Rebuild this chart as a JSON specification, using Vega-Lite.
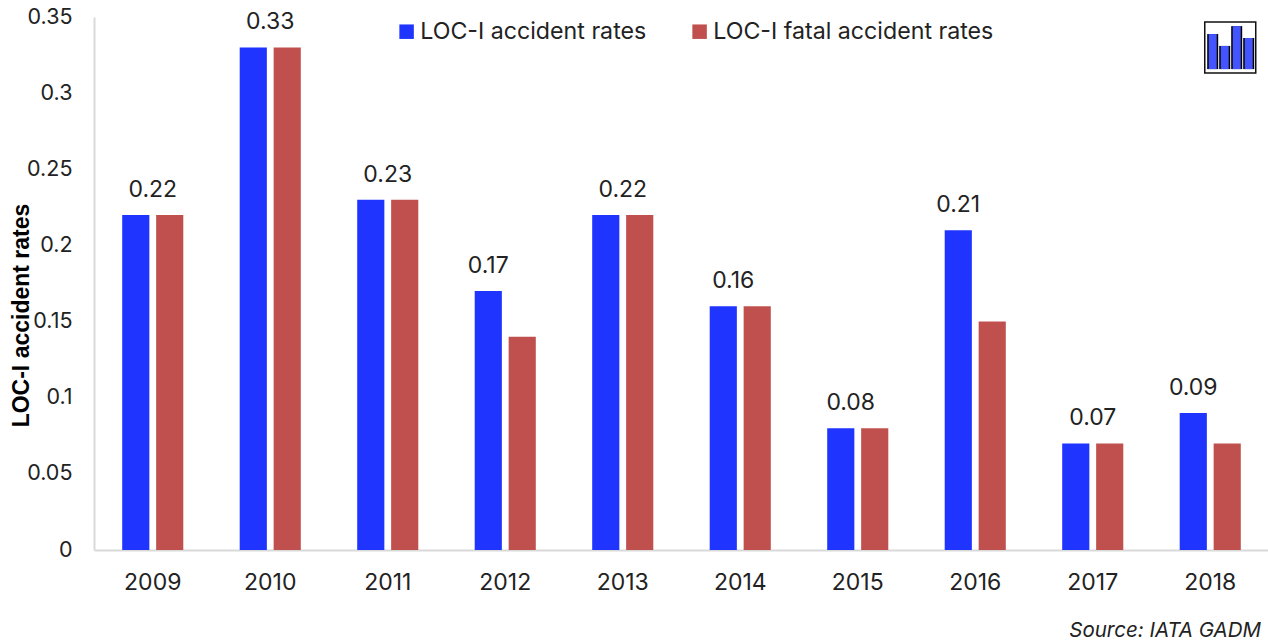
{
"$schema":"https://vega.github.io/schema/vega-lite/v6.json",
"width":1175,"height":533,
"autosize":"none",
"padding":{"left":94,"top":17,"right":0,"bottom":91},
"background":"white",
"config":{"view":{"stroke":null},"font":"Inter"},
"title":{"text":"Source: IATA GADM","orient":"bottom","anchor":"end","font":"Inter","fontStyle":"italic","fontWeight":"normal","fontSize":20.5,"color":"#222222","offset":27,"dx":-8},
"datasets":{
"rates":[
{"year":"2009","series":"LOC-I accident rates","rate":0.22},{"year":"2009","series":"LOC-I fatal accident rates","rate":0.22},
{"year":"2010","series":"LOC-I accident rates","rate":0.33},{"year":"2010","series":"LOC-I fatal accident rates","rate":0.33},
{"year":"2011","series":"LOC-I accident rates","rate":0.23},{"year":"2011","series":"LOC-I fatal accident rates","rate":0.23},
{"year":"2012","series":"LOC-I accident rates","rate":0.17},{"year":"2012","series":"LOC-I fatal accident rates","rate":0.14},
{"year":"2013","series":"LOC-I accident rates","rate":0.22},{"year":"2013","series":"LOC-I fatal accident rates","rate":0.22},
{"year":"2014","series":"LOC-I accident rates","rate":0.16},{"year":"2014","series":"LOC-I fatal accident rates","rate":0.16},
{"year":"2015","series":"LOC-I accident rates","rate":0.08},{"year":"2015","series":"LOC-I fatal accident rates","rate":0.08},
{"year":"2016","series":"LOC-I accident rates","rate":0.21},{"year":"2016","series":"LOC-I fatal accident rates","rate":0.15},
{"year":"2017","series":"LOC-I accident rates","rate":0.07},{"year":"2017","series":"LOC-I fatal accident rates","rate":0.07},
{"year":"2018","series":"LOC-I accident rates","rate":0.09},{"year":"2018","series":"LOC-I fatal accident rates","rate":0.07}
],
"icon":[
{"year":"2018","part":"a","top":0.3388,"bottom":0.3158},
{"year":"2018","part":"b","top":0.331,"bottom":0.3158},
{"year":"2018","part":"c","top":0.344,"bottom":0.3158},
{"year":"2018","part":"d","top":0.3362,"bottom":0.3158}
],
"iconBox":[{"year":"2018","rate":0.33}]
},
"layer":[
{"data":{"name":"rates"},"mark":{"type":"bar"},
"encoding":{
"x":{"field":"year","type":"nominal","scale":{"paddingInner":0.48,"paddingOuter":0.24},"axis":{"title":null,"labelAngle":0,"labelFontSize":23,"labelColor":"#222222","labelPadding":21,"ticks":false,"domainColor":"#d9d9d9","domainWidth":2}},
"xOffset":{"field":"series","type":"nominal","scale":{"paddingInner":0.2}},
"y":{"field":"rate","type":"quantitative","scale":{"domain":[0,0.35]},"axis":{"title":"LOC-I accident rates","titleFont":"Liberation Sans","titleFontSize":23,"titleFontWeight":"bold","titleColor":"#000000","titleX":-61,"titleY":298,"values":[0,0.05,0.1,0.15,0.2,0.25,0.3,0.35],"labelExpr":"format(datum.value,'.2~f')","labelFontSize":21.5,"labelColor":"#222222","labelPadding":22,"ticks":false,"grid":false,"domainColor":"#d9d9d9","domainWidth":2}},
"color":{"field":"series","type":"nominal","scale":{"domain":["LOC-I accident rates","LOC-I fatal accident rates"],"range":["#1f35ff","#c0504d"]},
"legend":{"title":null,"orient":"none","direction":"horizontal","legendX":301,"legendY":3,"symbolType":"square","symbolSize":210,"symbolStrokeWidth":0,"labelFontSize":23.2,"labelColor":"#222222","labelFont":"Inter","labelLimit":400,"columnPadding":41,"labelOffset":2}}
}},
{"data":{"name":"rates"},"transform":[{"filter":"datum.series=='LOC-I accident rates' && indexof(['2009','2010','2011','2013','2017'],datum.year)>=0"}],
"mark":{"type":"text","fontSize":23,"color":"#222222","dy":-25},
"encoding":{"x":{"field":"year","type":"nominal"},"y":{"field":"rate","type":"quantitative"},"text":{"field":"rate","type":"quantitative","format":".2f"}}},
{"data":{"name":"rates"},"transform":[{"filter":"datum.series=='LOC-I accident rates' && indexof(['2014','2015'],datum.year)>=0"}],
"mark":{"type":"text","fontSize":23,"color":"#222222","dy":-25,"dx":-7},
"encoding":{"x":{"field":"year","type":"nominal"},"y":{"field":"rate","type":"quantitative"},"text":{"field":"rate","type":"quantitative","format":".2f"}}},
{"data":{"name":"rates"},"transform":[{"filter":"datum.series=='LOC-I accident rates' && indexof(['2012','2016','2018'],datum.year)>=0"}],
"mark":{"type":"text","fontSize":23,"color":"#222222","dy":-25,"dx":-17},
"encoding":{"x":{"field":"year","type":"nominal"},"y":{"field":"rate","type":"quantitative"},"text":{"field":"rate","type":"quantitative","format":".2f"}}},
{"data":{"name":"iconBox"},"mark":{"type":"point","shape":"square","filled":false,"stroke":"#111111","strokeWidth":1.5,"size":2600,"xOffset":20,"opacity":1},
"encoding":{"x":{"field":"year","type":"nominal"},"y":{"field":"rate","type":"quantitative"}}},
{"data":{"name":"icon"},"mark":{"type":"rule","strokeWidth":11,"color":"#000000","xOffset":1},
"encoding":{"x":{"field":"year","type":"nominal"},"xOffset":{"field":"part","type":"nominal","scale":{"type":"point","padding":0,"range":[33,69]}},"y":{"field":"top","type":"quantitative"},"y2":{"field":"bottom"}}},
{"data":{"name":"icon"},"mark":{"type":"rule","strokeWidth":8,"color":"#4455ff"},
"encoding":{"x":{"field":"year","type":"nominal"},"xOffset":{"field":"part","type":"nominal","scale":{"type":"point","padding":0,"range":[33,69]}},"y":{"field":"top","type":"quantitative"},"y2":{"field":"bottom"}}}
],
"resolve":{"scale":{"xOffset":"independent"}}
}
